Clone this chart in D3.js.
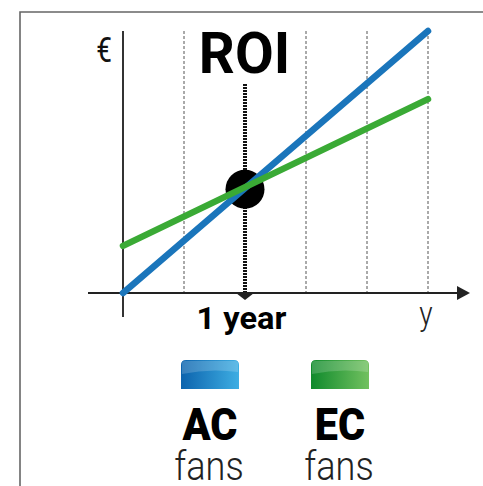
<!DOCTYPE html>
<html>
<head>
<meta charset="utf-8">
<script src="https://cdn.jsdelivr.net/npm/d3@7"></script>
<style>
  html, body { margin: 0; padding: 0; background: #fff; }
  svg { display: block; }
</style>
</head>
<body>
<svg id="chart"></svg>
<script>
// ROI comparison: AC fans vs EC fans
const months = [0, 30]
const acFans = [0, 100]
const ecFans = [18, 74]
const gridMonths = [6, 12, 18, 24, 30]
const breakEven = 12
const legendNames = ['AC', 'EC']
const legendSub = ['fans', 'fans']
const legendColors = [['#0c63ad', '#3eaee3'], ['#0f8a2c', '#72c160']]

const width = 483
const height = 486
const svg = d3.select('#chart').attr('width', width).attr('height', height)

const x = d3.scaleLinear().domain([0, 30]).range([123, 428])
const y = d3.scaleLinear().domain([0, 100]).range([293, 31])

const font = "'Roboto', sans-serif"

// outer frame
svg.append('path')
  .attr('d', 'M20,' + (height + 5) + 'V12H' + (width + 5))
  .attr('fill', 'none')
  .attr('stroke', '#666')
  .attr('stroke-width', 1.6)

// thin dashed grid lines
svg.selectAll('.grid')
  .data(gridMonths.filter(d => d !== breakEven))
  .enter().append('line')
  .attr('class', 'grid')
  .attr('x1', d => x(d)).attr('x2', d => x(d))
  .attr('y1', y(100)).attr('y2', y(0))
  .attr('stroke', '#555')
  .attr('stroke-width', 1)
  .attr('stroke-dasharray', '3,2')

// break even marker
svg.append('line')
  .attr('x1', x(breakEven)).attr('x2', x(breakEven))
  .attr('y1', 84).attr('y2', y(0))
  .attr('stroke', '#111')
  .attr('stroke-width', 4)
  .attr('stroke-dasharray', '2,1')

// axes
svg.append('line')
  .attr('x1', x(0)).attr('x2', x(0))
  .attr('y1', y(100)).attr('y2', y(0) + 24)
  .attr('stroke', '#333').attr('stroke-width', 2)
svg.append('line')
  .attr('x1', x(0) - 35).attr('x2', 460)
  .attr('y1', y(0)).attr('y2', y(0))
  .attr('stroke', '#222').attr('stroke-width', 2)
svg.append('path')
  .attr('d', `M457,${y(0) - 7}L470,${y(0)}L457,${y(0) + 7}Z`)
  .attr('fill', '#222')
svg.append('path')
  .attr('d', `M${x(breakEven) - 9},${y(0)}L${x(breakEven) + 9},${y(0)}L${x(breakEven)},${y(0) + 7}Z`)
  .attr('fill', '#222')

// break even dot
svg.append('circle')
  .attr('cx', x(breakEven))
  .attr('cy', y(40) + 1)
  .attr('r', 19.5)
  .attr('fill', '#000')

const line = d3.line().x(d => x(d[0])).y(d => y(d[1]))
const series = [
  { values: acFans, color: '#1a75bb' },
  { values: ecFans, color: '#3aaa35' }
]
svg.selectAll('.series')
  .data(series)
  .enter().append('path')
  .attr('class', 'series')
  .attr('d', d => line(months.map((m, i) => [m, d.values[i]])))
  .attr('fill', 'none')
  .attr('stroke', d => d.color)
  .attr('stroke-width', 6.5)
  .attr('stroke-linecap', 'round')

// text helper: anchored text with horizontal squeeze
function label (parent, tx, ty, sx, anchor) {
  return parent.append('text')
    .attr('transform', `translate(${tx},${ty}) scale(${sx},1)`)
    .attr('text-anchor', anchor)
    .style('font-family', font)
}

label(svg, 112, 62, 0.8, 'end')
  .style('font-size', '35px')
  .style('fill', '#111')
  .text('€')

label(svg, 244.5, 73, 0.97, 'middle')
  .style('font-weight', 'bold')
  .style('font-size', '58px')
  .style('fill', '#000')
  .text('ROI')

label(svg, 241.5, 329, 1.05, 'middle')
  .style('font-weight', 'bold')
  .style('font-size', '31px')
  .style('fill', '#000')
  .text('1 year')

label(svg, 426, 325, 0.85, 'middle')
  .style('font-weight', '300')
  .style('font-size', '33px')
  .style('fill', '#222')
  .text('y')

// legend
const defs = svg.append('defs')
legendColors.forEach((c, i) => {
  const g = defs.append('linearGradient').attr('id', 'lg' + i)
  g.append('stop').attr('offset', '0%').attr('stop-color', c[0])
  g.append('stop').attr('offset', '100%').attr('stop-color', c[1])
})

const legendX = d3.scalePoint().domain(legendNames).range([210, 340])
const keyW = 58
const keyH = 29
const keyTop = 360

function keyPath (cx) {
  const p = d3.path()
  const l = cx - keyW / 2
  const r = cx + keyW / 2
  const rad = 5
  p.moveTo(l, keyTop + keyH)
  p.lineTo(l, keyTop + rad)
  p.quadraticCurveTo(l, keyTop, l + rad, keyTop)
  p.lineTo(r - rad, keyTop)
  p.quadraticCurveTo(r, keyTop, r, keyTop + rad)
  p.lineTo(r, keyTop + keyH)
  p.closePath()
  return p.toString()
}

const leg = svg.selectAll('.legend')
  .data(legendNames)
  .enter().append('g')
  .attr('class', 'legend')

leg.append('path')
  .attr('d', d => keyPath(legendX(d)))
  .attr('fill', (d, i) => `url(#lg${i})`)
leg.append('path')
  .attr('d', d => {
    const cx = legendX(d)
    return `M${cx - keyW / 2 + 1},${keyTop + 14}Q${cx},${keyTop + 8} ${cx + keyW / 2 - 1},${keyTop + 12}V${keyTop + 3}Q${cx + keyW / 2 - 1},${keyTop + 1} ${cx + keyW / 2 - 4},${keyTop + 1}H${cx - keyW / 2 + 4}Q${cx - keyW / 2 + 1},${keyTop + 1} ${cx - keyW / 2 + 1},${keyTop + 3}Z`
  })
  .attr('fill', '#fff')
  .attr('opacity', 0.18)

leg.each(function (d, i) {
  const g = d3.select(this)
  label(g, legendX(d), 440, 0.92, 'middle')
    .style('font-weight', '900')
    .style('font-size', '45px')
    .style('fill', '#000')
    .text(d)
  label(g, legendX(d) - 1, 480, 0.88, 'middle')
    .style('font-weight', '300')
    .style('font-size', '41px')
    .style('fill', '#222')
    .text(legendSub[i])
})
</script>
</body>
</html>
